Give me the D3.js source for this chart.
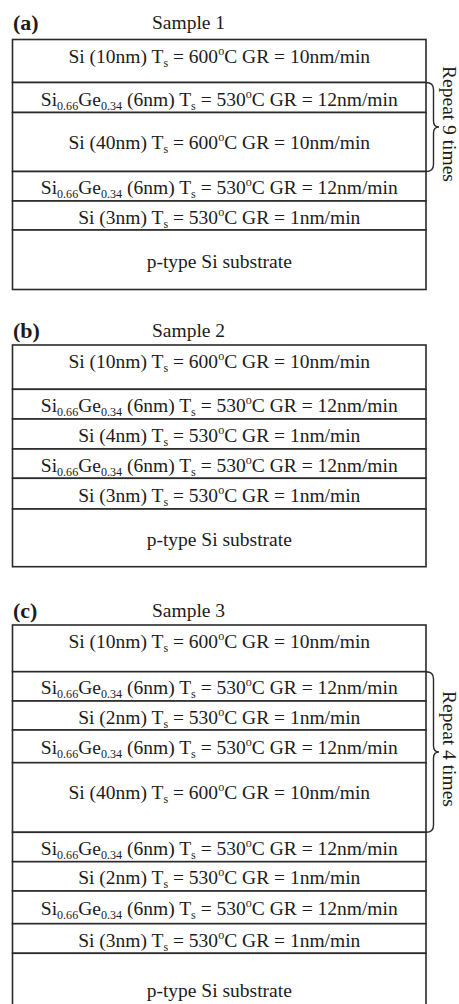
<!DOCTYPE html>
<html>
<head>
<meta charset="utf-8">
<script src="https://cdn.jsdelivr.net/npm/d3@7/dist/d3.min.js"></script>
<style>
  html, body { margin: 0; padding: 0; background: #fff; }
  svg { display: block; }
  text { font-family: "Liberation Serif", "Times New Roman", serif; fill: #1b1b1b; }
</style>
</head>
<body>
<svg id="chart" width="459" height="1004"></svg>
<script>
// ---- Layer stacks (top layer first) ----
// kind: "Si" epitaxial silicon, "SiGe" Si0.66Ge0.34, "sub" p-type substrate
const panelTags = ["(a)", "(b)", "(c)"];
const sampleNames = ["Sample 1", "Sample 2", "Sample 3"];

const kinds1 = ["Si", "SiGe", "Si", "SiGe", "Si", "sub"];
const thick1 = [10, 6, 40, 6, 3, null];
const temp1  = [600, 530, 600, 530, 530, null];
const rate1  = [10, 12, 10, 12, 1, null];
const drawn1 = [43, 30, 59, 29.5, 29, 59.5];

const kinds2 = ["Si", "SiGe", "Si", "SiGe", "Si", "sub"];
const thick2 = [10, 6, 4, 6, 3, null];
const temp2  = [600, 530, 530, 530, 530, null];
const rate2  = [10, 12, 1, 12, 1, null];
const drawn2 = [44.3, 29.7, 30, 29.3, 30.7, 57.7];

const kinds3 = ["Si", "SiGe", "Si", "SiGe", "Si", "SiGe", "Si", "SiGe", "Si", "sub"];
const thick3 = [10, 6, 2, 6, 40, 6, 2, 6, 3, null];
const temp3  = [600, 530, 530, 530, 600, 530, 530, 530, 530, null];
const rate3  = [10, 12, 1, 12, 10, 12, 1, 12, 1, null];
const drawn3 = [46.7, 29.3, 29, 32.7, 69.6, 29.4, 29.3, 32.7, 29.6, 72];

// repeated block: first and last layer index, repeat count (null = none)
const repeatFrom = [1, null, 1];
const repeatTo   = [2, null, 4];
const repeatN    = [9, null, 4];

const sige = { si: "0.66", ge: "0.34" };

const samples = [
  { kinds: kinds1, thick: thick1, temp: temp1, rate: rate1, drawn: drawn1 },
  { kinds: kinds2, thick: thick2, temp: temp2, rate: rate2, drawn: drawn2 },
  { kinds: kinds3, thick: thick3, temp: temp3, rate: rate3, drawn: drawn3 }
];

// ---- layout ----
const layout = {
  panelTop: [39.5, 345, 625],
  titleGap: [11, 8, 8],
  left: 12.5, right: 426,
  fontSize: 19.5
};

const svg = d3.select("#chart");
const x = d3.scaleLinear().domain([0, 1]).range([layout.left, layout.right]);
const midX = x(0.5);

// label pieces: [text, shift] where shift is 0 normal, 1 subscript, -1 superscript
function labelParts(d) {
  if (d.kind === "sub") return [["p-type Si substrate", 0]];
  const parts = [];
  if (d.kind === "SiGe") {
    parts.push(["Si", 0], [sige.si, 1], ["Ge", 0], [sige.ge, 1]);
  } else {
    parts.push(["Si", 0]);
  }
  parts.push([" (" + d.thick + "nm) T", 0], ["s", 1], [" = " + d.temp, 0], ["o", -1],
             ["C GR = " + d.rate + "nm/min", 0]);
  return parts;
}
const shiftPx = { "0": 0, "1": 4, "-1": -8 };

function writeLabel(t, d) {
  let prev = 0;
  labelParts(d).forEach(([str, sh]) => {
    const ts = t.append("tspan").text(str);
    const dy = shiftPx[sh] - prev;
    if (dy !== 0) ts.attr("dy", dy);
    if (sh !== 0) ts.attr("font-size", "0.62em");
    prev = shiftPx[sh];
  });
}

samples.forEach((s, p) => {
  const top = layout.panelTop[p];
  const total = d3.sum(s.drawn);
  const y = d3.scaleLinear().domain([0, total]).range([top, top + total]);
  const cum = d3.cumsum(s.drawn);
  const layers = s.kinds.map((k, i) => ({
    kind: k, thick: s.thick[i], temp: s.temp[i], rate: s.rate[i],
    y0: i === 0 ? 0 : cum[i - 1], y1: cum[i], i
  }));

  const g = svg.append("g");

  // panel tag and sample title
  g.append("text")
    .attr("x", 13).attr("y", top - layout.titleGap[p] + 1)
    .attr("font-size", 22).attr("font-weight", "bold")
    .text(panelTags[p]);
  g.append("text")
    .attr("x", 152).attr("y", top - layout.titleGap[p])
    .attr("font-size", layout.fontSize)
    .text(sampleNames[p]);

  // layer rectangles
  g.selectAll("rect.layer").data(layers).join("rect")
    .attr("class", "layer")
    .attr("x", x(0)).attr("width", x(1) - x(0))
    .attr("y", d => y(d.y0)).attr("height", d => y(d.y1) - y(d.y0))
    .attr("fill", "#fff").attr("stroke", "#2a2a2a").attr("stroke-width", 1.6);

  // layer labels
  g.selectAll("text.layer").data(layers).join("text")
    .attr("class", "layer")
    .attr("x", midX)
    .attr("y", d => {
      const t = y(d.y0), h = y(d.y1) - y(d.y0);
      if (d.i === 0) return t + 23;
      if (d.thick === 40) return t + Math.min(h / 2 + 8, 36);
      return t + h / 2 + 8;
    })
    .attr("text-anchor", "middle")
    .attr("font-size", layout.fontSize)
    .each(function (d) { writeLabel(d3.select(this), d); });

  // repeat brace
  if (repeatN[p] != null) {
    const y0 = y(layers[repeatFrom[p]].y0);
    const y1 = y(layers[repeatTo[p]].y1);
    const ym = (y0 + y1) / 2;
    const x0 = x(1), xv = x(1) + 7.5, xt = x(1) + 13;
    const path = d3.path();
    path.moveTo(x0, y0);
    path.quadraticCurveTo(xv, y0, xv, y0 + 7);
    path.lineTo(xv, ym - 6);
    path.quadraticCurveTo(xv, ym, xt, ym);
    path.quadraticCurveTo(xv, ym, xv, ym + 6);
    path.lineTo(xv, y1 - 7);
    path.quadraticCurveTo(xv, y1, x0, y1);
    g.append("path").attr("d", path.toString())
      .attr("fill", "none").attr("stroke", "#2a2a2a").attr("stroke-width", 1.4);

    g.append("text")
      .attr("transform", `translate(${x(1) + 17},${ym - 3}) rotate(90)`)
      .attr("text-anchor", "middle")
      .attr("font-size", layout.fontSize)
      .text(`Repeat ${repeatN[p]} times`);
  }
});
</script>
</body>
</html>
